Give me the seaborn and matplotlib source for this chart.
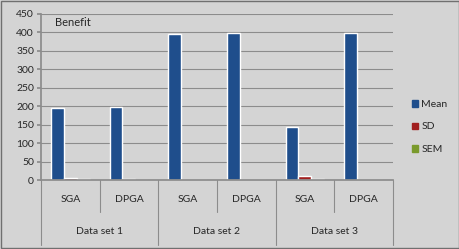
import pandas as pd
import matplotlib.pyplot as plt
import matplotlib.patches as mpatches
import seaborn as sns

# values
datasets = ["Data set 1", "Data set 2", "Data set 3"]
methods = ["SGA", "DPGA", "SGA", "DPGA", "SGA", "DPGA"]
mean_vals = [195, 197, 395, 398, 143, 398]
sd_vals = [5, 3, 0, 0, 11, 1]
sem_vals = [1.5, 1, 0, 0, 3, 0.5]
stats = ["Mean", "SD", "SEM"]
colors = ["#1f4e8c", "#a11f1f", "#7a9a2c"]


def main():
    sns.set_theme(style="white")
    plt.rcParams['font.family'] = ['Lato', 'DejaVu Sans']

    cats = [f"{i}" for i in range(len(methods))]
    df = pd.DataFrame({
        "cat": cats * 3,
        "value": mean_vals + sd_vals + sem_vals,
        "stat": [s for s in stats for _ in cats],
    })

    bg = "#d4d4d4"
    fig = plt.figure(figsize=(4.6, 2.49), dpi=100, facecolor=bg)
    ax = fig.add_axes([0.089, 0.277, 0.765, 0.667])
    ax.set_facecolor(bg)

    sns.barplot(data=df, x="cat", y="value", hue="stat", palette=colors,
                width=0.66, saturation=1, ax=ax, legend=False)

    ax.set_ylim(0, 450)
    ax.set_xlim(-0.5, len(methods) - 0.5)
    ax.set_yticks(range(0, 451, 50))
    ax.yaxis.grid(True, color="#8c8c8c", linewidth=0.8)
    ax.set_axisbelow(True)
    ax.spines[["top", "right"]].set_visible(False)
    ax.spines["left"].set_color("#8c8c8c")
    ax.spines["bottom"].set_color("#8c8c8c")
    ax.tick_params(axis="y", labelsize=7.5, length=3, left=True, color="#8c8c8c", pad=2)
    ax.set_xticks([])
    ax.set_xlabel("")
    ax.set_ylabel("")

    ax.text(0.04, 0.95, "Benefit", transform=ax.transAxes, fontsize=8, va="center")

    # two level category axis
    trans = ax.get_xaxis_transform()
    for i, m in enumerate(methods):
        ax.text(i, -0.115, m, transform=trans, ha="center", va="center", fontsize=7.5)
    for j, d in enumerate(datasets):
        ax.text(2 * j + 0.5, -0.31, d, transform=trans, ha="center", va="center", fontsize=7.5)
    for k in range(len(methods) + 1):
        x = k - 0.5
        low = -0.39 if k % 2 == 0 else -0.195
        ax.plot([x, x], [0, low], transform=trans, color="#8c8c8c",
                linewidth=0.8, clip_on=False)

    handles = [mpatches.Patch(color=c, label=s) for c, s in zip(colors, stats)]
    fig.legend(handles=handles, loc="center left", bbox_to_anchor=(0.875, 0.49),
               frameon=False, fontsize=7.5, handlelength=0.6, handleheight=0.6,
               handletextpad=0.3, labelspacing=1.3)

    fig.patches.append(mpatches.Rectangle((0.002, 0.004), 0.996, 0.992, transform=fig.transFigure,
                                          fill=False, edgecolor="#707070", linewidth=1))

    fig.savefig("out.png", dpi=100, facecolor=bg)


if __name__ == "__main__":
    main()
